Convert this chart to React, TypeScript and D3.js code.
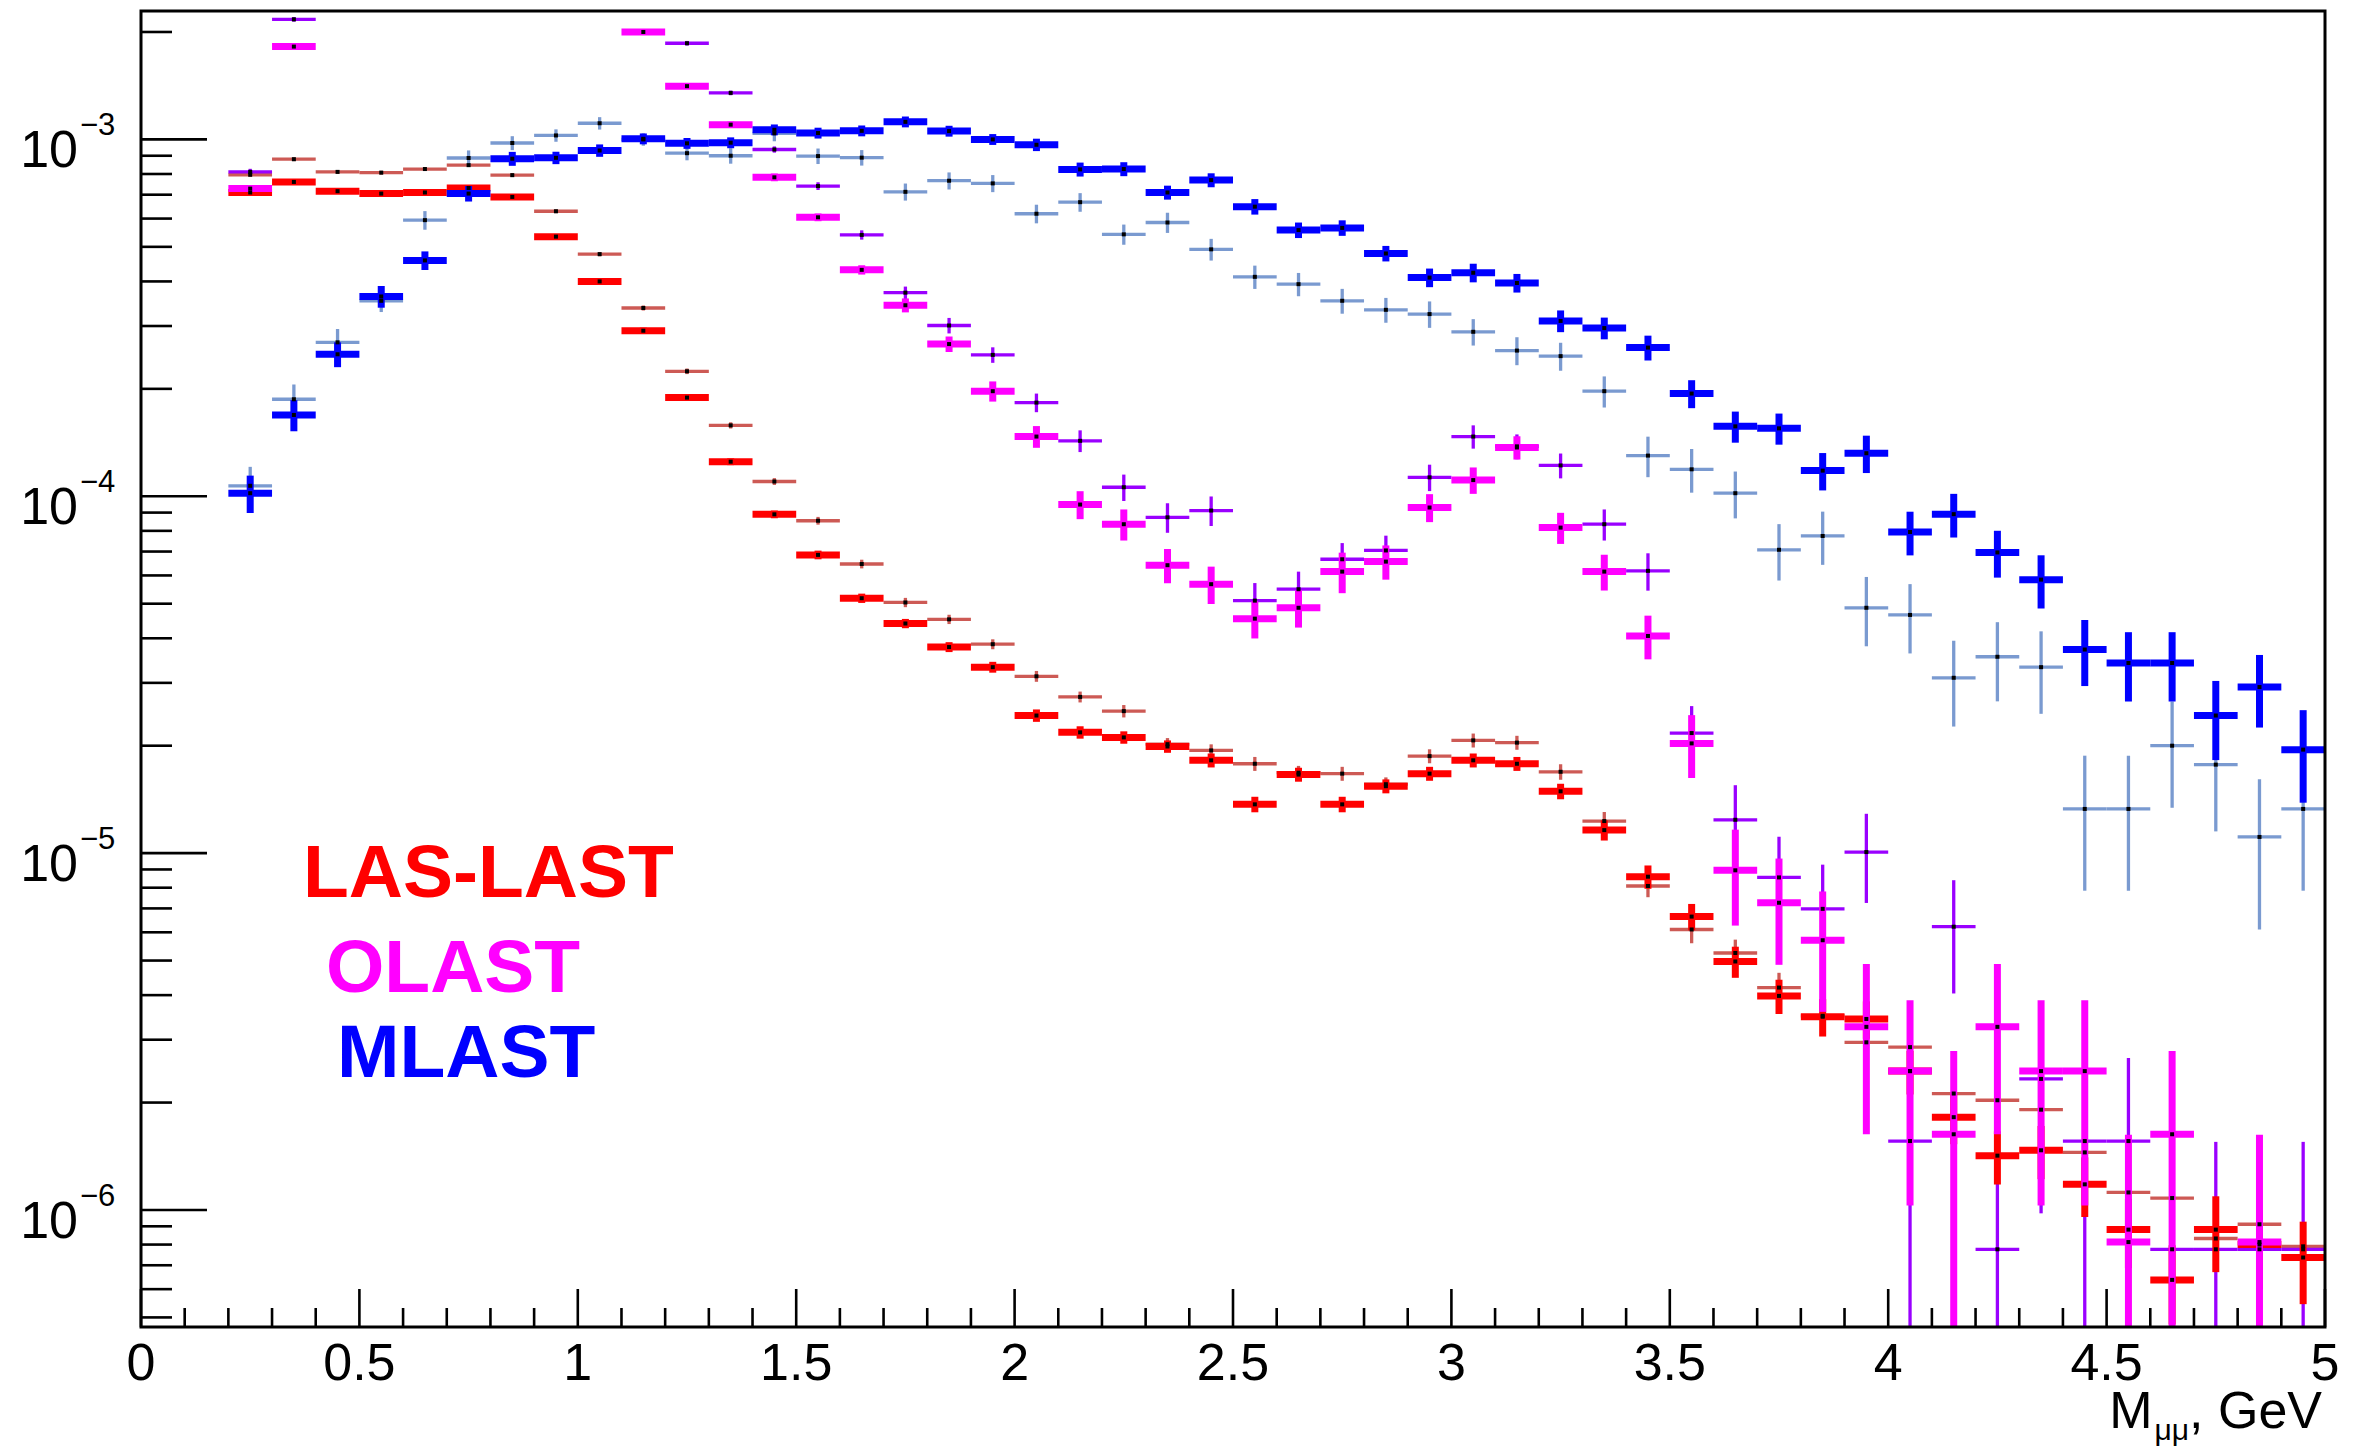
import React from 'react';
import * as d3 from 'd3';

// bin centres (GeV), bin width 0.1
const binCenters = [
  0.25, 0.35, 0.45, 0.55, 0.65, 0.75, 0.85, 0.95, 1.05, 1.15,
  1.25, 1.35, 1.45, 1.55, 1.65, 1.75, 1.85, 1.95, 2.05, 2.15,
  2.25, 2.35, 2.45, 2.55, 2.65, 2.75, 2.85, 2.95, 3.05, 3.15,
  3.25, 3.35, 3.45, 3.55, 3.65, 3.75, 3.85, 3.95, 4.05, 4.15,
  4.25, 4.35, 4.45, 4.55, 4.65, 4.75, 4.85, 4.95,
];
const binWidth = 0.1;

// LAS-LAST (thick red)
const lasLast = [
  7.10e-4, 7.6e-4, 7.16e-4, 7.05e-4, 7.10e-4, 7.31e-4, 6.90e-4, 5.34e-4, 4.00e-4, 2.91e-4,
  1.89e-4, 1.25e-4, 8.9e-5, 6.85e-5, 5.18e-5, 4.40e-5, 3.78e-5, 3.32e-5, 2.43e-5, 2.18e-5,
  2.11e-5, 1.99e-5, 1.82e-5, 1.37e-5, 1.66e-5, 1.37e-5, 1.54e-5, 1.67e-5, 1.82e-5, 1.78e-5,
  1.49e-5, 1.16e-5, 8.59e-6, 6.64e-6, 4.97e-6, 3.98e-6, 3.48e-6, 3.43e-6, 2.45e-6, 1.82e-6,
  1.42e-6, 1.47e-6, 1.18e-6, 8.81e-7, 6.37e-7, 8.81e-7, 8.0e-7, 7.36e-7,
];
const lasLastErr = [
  0.015, 0.015, 0.015, 0.015, 0.015, 0.015, 0.015, 0.015, 0.018, 0.02,
  0.02, 0.022, 0.025, 0.028, 0.03, 0.03, 0.032, 0.035, 0.04, 0.04,
  0.04, 0.04, 0.045, 0.05, 0.045, 0.05, 0.045, 0.045, 0.045, 0.045,
  0.05, 0.065, 0.075, 0.085, 0.10, 0.11, 0.12, 0.12, 0.14, 0.16,
  0.17, 0.17, 0.19, 0.22, 0.25, 0.24, 0.25, 0.26,
];
// LAS-LAST comparison (thin dark red)
const lasLastB = [
  7.96e-4, 8.8e-4, 8.11e-4, 8.07e-4, 8.26e-4, 8.47e-4, 7.94e-4, 6.29e-4, 4.77e-4, 3.37e-4,
  2.24e-4, 1.58e-4, 1.10e-4, 8.54e-5, 6.46e-5, 5.04e-5, 4.52e-5, 3.85e-5, 3.13e-5, 2.74e-5,
  2.50e-5, 2.02e-5, 1.94e-5, 1.78e-5, 1.68e-5, 1.67e-5, 1.56e-5, 1.87e-5, 2.07e-5, 2.04e-5,
  1.69e-5, 1.23e-5, 8.09e-6, 6.11e-6, 5.25e-6, 4.20e-6, 3.5e-6, 2.95e-6, 2.86e-6, 2.12e-6,
  2.03e-6, 1.91e-6, 1.45e-6, 1.12e-6, 1.08e-6, 8.32e-7, 9.12e-7, 7.91e-7,
];
const lasLastBErr = [
  0.012, 0.012, 0.012, 0.012, 0.012, 0.012, 0.012, 0.012, 0.014, 0.016,
  0.018, 0.02, 0.022, 0.025, 0.028, 0.03, 0.03, 0.032, 0.035, 0.035,
  0.04, 0.04, 0.04, 0.045, 0.045, 0.045, 0.045, 0.045, 0.045, 0.045,
  0.05, 0.06, 0.07, 0.085, 0.09, 0.10, 0.11, 0.11, 0.12, 0.12,
  0.12, 0.13, 0.13, 0.13, 0.14, 0.14, 0.14, 0.15,
];
// OLAST (thick magenta)
const oLast = [
  7.28e-4, 1.82e-3, null, null, null, null, null, null, null, 2.00e-3,
  1.41e-3, 1.10e-3, 7.83e-4, 6.05e-4, 4.31e-4, 3.43e-4, 2.67e-4, 1.97e-4, 1.47e-4, 9.48e-5,
  8.35e-5, 6.41e-5, 5.67e-5, 4.54e-5, 4.87e-5, 6.15e-5, 6.56e-5, 9.30e-5, 1.11e-4, 1.37e-4,
  8.17e-5, 6.15e-5, 4.06e-5, 2.03e-5, 8.95e-6, 7.26e-6, 5.70e-6, 3.26e-6, 2.45e-6, 1.63e-6,
  3.26e-6, 2.45e-6, 2.45e-6, 8.13e-7, 1.63e-6, null, 8.13e-7, null,
];
const oLastErr = [
  0.02, 0.015, 0, 0, 0, 0, 0, 0, 0, 0.015,
  0.015, 0.02, 0.025, 0.025, 0.03, 0.045, 0.05, 0.065, 0.07, 0.09,
  0.10, 0.11, 0.12, 0.12, 0.12, 0.13, 0.11, 0.09, 0.085, 0.075,
  0.10, 0.115, 0.14, 0.20, 0.30, 0.33, 0.37, 0.50, 0.58, 0.71,
  0.50, 0.58, 0.58, 1.0, 0.71, 0, 1.0, 0,
];
// OLAST comparison (thin violet)
const oLastB = [
  8.11e-4, 2.17e-3, null, null, null, null, null, null, null, null,
  1.86e-3, 1.35e-3, 9.37e-4, 7.40e-4, 5.40e-4, 3.72e-4, 3.01e-4, 2.49e-4, 1.83e-4, 1.43e-4,
  1.06e-4, 8.73e-5, 9.12e-5, 5.10e-5, 5.49e-5, 6.66e-5, 7.05e-5, 1.13e-4, 1.47e-4, 1.38e-4,
  1.22e-4, 8.35e-5, 6.18e-5, 2.17e-5, 1.24e-5, 8.55e-6, 6.98e-6, 1.007e-5, 1.56e-6, 6.22e-6,
  7.76e-7, 2.33e-6, 1.56e-6, 1.56e-6, 7.76e-7, 7.76e-7, 7.76e-7, 7.76e-7,
];
const oLastBErr = [
  0.02, 0.015, 0, 0, 0, 0, 0, 0, 0, 0,
  0.015, 0.015, 0.02, 0.025, 0.03, 0.04, 0.05, 0.05, 0.06, 0.07,
  0.085, 0.095, 0.095, 0.12, 0.12, 0.11, 0.10, 0.085, 0.075, 0.08,
  0.08, 0.10, 0.12, 0.19, 0.25, 0.30, 0.33, 0.28, 0.71, 0.35,
  1.0, 0.58, 0.71, 0.71, 1.0, 1.0, 1.0, 1.0,
];
// MLAST (thick blue)
const mLast = [
  1.02e-4, 1.69e-4, 2.50e-4, 3.63e-4, 4.58e-4, 7.05e-4, 8.83e-4, 8.88e-4, 9.31e-4, 1.004e-3,
  9.75e-4, 9.79e-4, 1.064e-3, 1.042e-3, 1.057e-3, 1.12e-3, 1.055e-3, 1.0e-3, 9.66e-4, 8.24e-4,
  8.26e-4, 7.10e-4, 7.69e-4, 6.48e-4, 5.57e-4, 5.65e-4, 4.79e-4, 4.10e-4, 4.23e-4, 3.96e-4,
  3.10e-4, 2.96e-4, 2.61e-4, 1.94e-4, 1.57e-4, 1.55e-4, 1.18e-4, 1.32e-4, 7.94e-5, 8.91e-5,
  6.96e-5, 5.84e-5, 3.72e-5, 3.41e-5, 3.41e-5, 2.43e-5, 2.92e-5, 1.95e-5,
];
const mLastErr = [
  0.12, 0.10, 0.08, 0.07, 0.06, 0.05, 0.045, 0.04, 0.04, 0.035,
  0.035, 0.035, 0.035, 0.035, 0.035, 0.035, 0.035, 0.035, 0.04, 0.045,
  0.045, 0.045, 0.045, 0.05, 0.05, 0.05, 0.05, 0.06, 0.06, 0.06,
  0.07, 0.07, 0.08, 0.09, 0.10, 0.10, 0.12, 0.12, 0.14, 0.14,
  0.15, 0.17, 0.21, 0.22, 0.22, 0.25, 0.23, 0.29,
];
// MLAST comparison (thin steel blue)
const mLastB = [
  1.07e-4, 1.87e-4, 2.70e-4, 3.53e-4, 5.94e-4, 8.87e-4, 9.77e-4, 1.026e-3, 1.11e-3, 1.0e-3,
  9.15e-4, 9.0e-4, 1.04e-3, 8.98e-4, 8.89e-4, 7.13e-4, 7.66e-4, 7.53e-4, 6.19e-4, 6.67e-4,
  5.42e-4, 5.85e-4, 4.92e-4, 4.12e-4, 3.93e-4, 3.53e-4, 3.33e-4, 3.24e-4, 2.89e-4, 2.56e-4,
  2.47e-4, 1.97e-4, 1.30e-4, 1.19e-4, 1.02e-4, 7.08e-5, 7.74e-5, 4.87e-5, 4.65e-5, 3.10e-5,
  3.55e-5, 3.32e-5, 1.33e-5, 1.33e-5, 2.0e-5, 1.77e-5, 1.11e-5, 1.33e-5,
];
const mLastBErr = [
  0.13, 0.10, 0.09, 0.07, 0.06, 0.05, 0.045, 0.04, 0.04, 0.04,
  0.045, 0.05, 0.05, 0.05, 0.05, 0.055, 0.055, 0.055, 0.06, 0.06,
  0.065, 0.065, 0.07, 0.075, 0.075, 0.08, 0.08, 0.085, 0.085, 0.09,
  0.09, 0.10, 0.13, 0.14, 0.15, 0.18, 0.17, 0.22, 0.22, 0.27,
  0.25, 0.26, 0.41, 0.41, 0.33, 0.35, 0.45, 0.41,
];

const xTickLabels = ['0', '0.5', '1', '1.5', '2', '2.5', '3', '3.5', '4', '4.5', '5'];
const yDecades = [-3, -4, -5, -6];
const legendLabels = ['LAS-LAST', 'OLAST', 'MLAST'];

const W = 2364;
const H = 1447;
const L = 141, R = 2325, T = 11, B = 1327;
const FONT = '"Liberation Sans", Arial, Helvetica, sans-serif';

const x = d3.scaleLinear().domain([0, 5]).range([L, R]);
const y = d3.scaleLog().domain([4.7e-7, 2.29e-3]).range([B, T]);

type Series = { vals: (number | null)[]; errs: number[]; color: string; width: number };

const thinSeries: Series[] = [
  { vals: lasLastB, errs: lasLastBErr, color: '#cd5a55', width: 3.3 },
  { vals: oLastB, errs: oLastBErr, color: '#9a00ff', width: 3.3 },
  { vals: mLastB, errs: mLastBErr, color: '#7a9ad0', width: 3.3 },
];
const thickSeries: Series[] = [
  { vals: lasLast, errs: lasLastErr, color: '#ff0000', width: 7 },
  { vals: oLast, errs: oLastErr, color: '#ff00ff', width: 7 },
  { vals: mLast, errs: mLastErr, color: '#0000ff', width: 7 },
];

function SeriesMarks({ s, k }: { s: Series; k: string }) {
  return (
    <g>
      {binCenters.map((c, i) => {
        const v = s.vals[i];
        if (v == null) return null;
        const e = s.errs[i];
        const hi = v * (1 + e);
        const lo = v * (1 - e);
        const yv = y(v);
        const yHi = y(hi);
        const yLo = lo > 0 ? y(lo) : B + 20;
        const xc = x(c);
        return (
          <g key={k + i}>
            <line x1={x(c - binWidth / 2)} x2={x(c + binWidth / 2)} y1={yv} y2={yv}
              stroke={s.color} strokeWidth={s.width} />
            <line x1={xc} x2={xc} y1={yHi} y2={Math.min(yLo, B + 20)}
              stroke={s.color} strokeWidth={s.width} />
          </g>
        );
      })}
    </g>
  );
}

function Markers({ s, k }: { s: Series; k: string }) {
  return (
    <g>
      {binCenters.map((c, i) => {
        const v = s.vals[i];
        if (v == null) return null;
        return <rect key={k + 'm' + i} x={x(c) - 2} y={y(v) - 2} width={4} height={4} fill="#000" />;
      })}
    </g>
  );
}

export default function App() {
  const yMinor: number[] = [];
  for (let d = -7; d <= -3; d++) {
    for (let m = 2; m <= 9; m++) {
      const v = m * Math.pow(10, d);
      if (v >= y.domain()[0] && v <= y.domain()[1]) yMinor.push(v);
    }
  }
  const xMinor = d3.range(1, 50).map((i) => i / 10).filter((v) => Math.abs(v * 2 - Math.round(v * 2)) > 1e-6);
  const xMajor = xTickLabels.map((t) => +t);
  const legendPos = [
    { x: 303, y: 897, color: '#ff0000' },
    { x: 326, y: 992, color: '#ff00ff' },
    { x: 337, y: 1077, color: '#0000ff' },
  ];

  return (
    <svg width={W} height={H} style={{ position: 'absolute', left: 0, top: 0, background: '#fff' }}
      fontFamily={FONT}>
      <rect x={0} y={0} width={W} height={H} fill="#fff" />
      <defs>
        <clipPath id="frame">
          <rect x={L} y={T} width={R - L} height={B - T} />
        </clipPath>
      </defs>
      <g clipPath="url(#frame)">
        {thinSeries.map((s, i) => <SeriesMarks key={'t' + i} s={s} k={'t' + i} />)}
        {thickSeries.map((s, i) => <SeriesMarks key={'T' + i} s={s} k={'T' + i} />)}
        {thinSeries.map((s, i) => <Markers key={'tm' + i} s={s} k={'tm' + i} />)}
        {thickSeries.map((s, i) => <Markers key={'Tm' + i} s={s} k={'Tm' + i} />)}
      </g>

      {/* y ticks */}
      {yDecades.map((d) => (
        <line key={'ymaj' + d} x1={L} x2={L + 66} y1={y(Math.pow(10, d))} y2={y(Math.pow(10, d))}
          stroke="#000" strokeWidth={2.6} />
      ))}
      {yMinor.map((v, i) => (
        <line key={'ymin' + i} x1={L} x2={L + 31} y1={y(v)} y2={y(v)} stroke="#000" strokeWidth={2.6} />
      ))}
      {/* x ticks */}
      {xMajor.map((v, i) => (
        <line key={'xmaj' + i} x1={x(v)} x2={x(v)} y1={B} y2={B - 38} stroke="#000" strokeWidth={2.6} />
      ))}
      {xMinor.map((v, i) => (
        <line key={'xmin' + i} x1={x(v)} x2={x(v)} y1={B} y2={B - 19} stroke="#000" strokeWidth={2.6} />
      ))}

      {/* frame */}
      <rect x={L} y={T} width={R - L} height={B - T} fill="none" stroke="#000" strokeWidth={3} />

      {/* x tick labels */}
      {xTickLabels.map((t, i) => (
        <text key={'xl' + i} x={x(+t)} y={1380} fontSize={52} textAnchor="middle" fill="#000">{t}</text>
      ))}
      {/* y tick labels */}
      {yDecades.map((d) => {
        const yy = y(Math.pow(10, d));
        return (
          <g key={'yl' + d}>
            <text x={78} y={yy + 28} fontSize={52} textAnchor="end" fill="#000">10</text>
            <text x={80} y={yy - 4} fontSize={31} textAnchor="start" fill="#000">{'\u2212' + Math.abs(d)}</text>
          </g>
        );
      })}
      {/* x title */}
      <text x={2322} y={1428} fontSize={52} textAnchor="end" fill="#000">
        M<tspan fontSize={30} dx={2} dy={12}>μμ</tspan><tspan fontSize={52} dy={-12}>, GeV</tspan>
      </text>

      {/* legend labels */}
      {legendLabels.map((lab, i) => (
        <text key={'lg' + i} x={legendPos[i].x} y={legendPos[i].y} fontSize={75} fontWeight="bold"
          fill={legendPos[i].color}>{lab}</text>
      ))}
    </svg>
  );
}
